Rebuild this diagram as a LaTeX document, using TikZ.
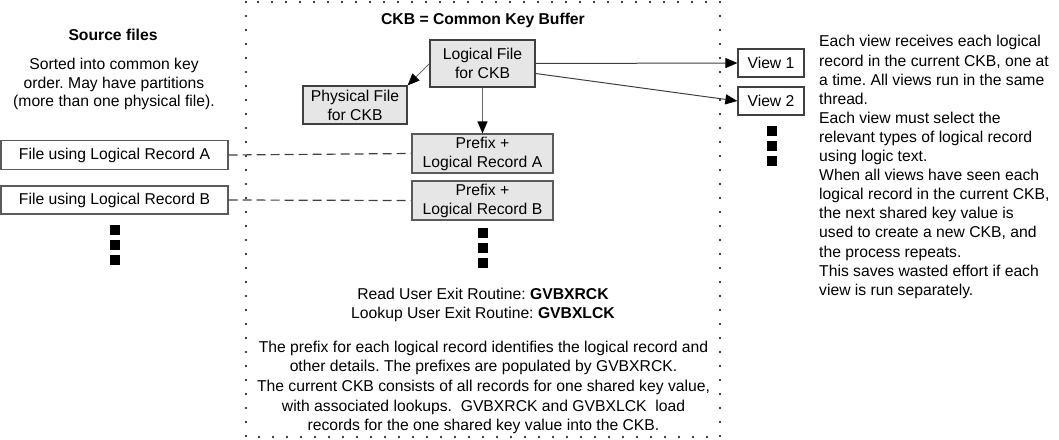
\documentclass[tikz,border=0pt]{standalone}
\usepackage{fontspec}
\setmainfont{Liberation Sans}
\usetikzlibrary{arrows.meta}
\definecolor{boxfill}{HTML}{E6E6E6}
\definecolor{boxline}{HTML}{5A5A5A}
\definecolor{darkline}{HTML}{404040}
\definecolor{arrline}{HTML}{6A6A6A}
\frenchspacing
\begin{document}
\begin{tikzpicture}[x=1pt,y=-1pt,
  txt/.style={font=\fontsize{15.7}{19}\selectfont, inner sep=0pt, align=center},
  boxg/.style={txt, draw=boxline, fill=boxfill, line width=1.2pt},
  boxw/.style={txt, draw=boxline, fill=white, line width=1.2pt},
  sq/.style={fill=black, minimum size=10pt, inner sep=0pt},
  tip/.style={-{Triangle[length=12pt,width=10pt,color=black]}},
  dashline/.style={draw=darkline, line width=1.2pt, dash pattern=on 9pt off 5pt},
  dotframe/.style={line width=2.2pt, line cap=round, dash pattern=on 0pt off 14pt}
]
\useasboundingbox (0,0) rectangle (1059,439);
\draw[dotframe] (246,2) rectangle (720,437);

% titles
\node[txt, font=\fontsize{15.7}{19}\selectfont\bfseries] (srct) at (113,35) {Source files};
\node[txt, font=\fontsize{15.7}{18.7}\selectfont] (srcd) at (114,84) {Sorted into common key\\order. May have partitions\\(more than one physical file).};
\node[txt, font=\fontsize{15.7}{19}\selectfont\bfseries] (ckbt) at (483,20) {CKB = Common Key Buffer};

% source file boxes
\node[boxw, minimum width=227pt, minimum height=29pt] (fa) at (114.5,155) {File using Logical Record A};
\node[boxw, minimum width=227pt, minimum height=28pt] (fb) at (114.5,200) {File using Logical Record B};
\node[sq] (ls1) at (114.5,229.5) {};
\node[sq] (ls2) at (114.5,244.5) {};
\node[sq] (ls3) at (114.5,259.5) {};

% CKB boxes
\node[boxg, draw=darkline, minimum width=105pt, minimum height=47pt] (lf) at (482.5,63.5) {Logical File\\for CKB};
\node[boxg, draw=darkline, minimum width=104pt, minimum height=38pt] (pf) at (355,105) {Physical File\\for CKB};
\node[boxg, minimum width=141pt, minimum height=39pt] (pa) at (482.5,153.5) {Prefix +\\Logical Record A};
\node[boxg, minimum width=141pt, minimum height=39pt] (pb) at (482.5,200.5) {Prefix +\\Logical Record B};
\node[sq] (ms1) at (483,232.5) {};
\node[sq] (ms2) at (483,247.5) {};
\node[sq] (ms3) at (483,262.5) {};

\node[txt] (exits) at (483,304.5) {Read User Exit Routine: \textbf{GVBXRCK}\\Lookup User Exit Routine: \textbf{GVBXLCK}};
\node[txt, font=\fontsize{15.7}{19.7}\selectfont] (notes) at (483.5,387.5) {The prefix for each logical record identifies the logical record and\\other details. The prefixes are populated by GVBXRCK.\\The current CKB consists of all records for one shared key value,\\with associated lookups.~ GVBXRCK and GVBXLCK~ load\\records for the one shared key value into the CKB.};

% views
\node[boxw, draw=darkline, minimum width=66pt, minimum height=28pt] (v1) at (771,63) {View 1};
\node[boxw, draw=darkline, minimum width=66pt, minimum height=28pt] (v2) at (771,101) {View 2};
\node[sq] (rs1) at (771.5,131) {};
\node[sq] (rs2) at (771.5,146) {};
\node[sq] (rs3) at (771.5,160.5) {};

\node[txt, font=\fontsize{15.7}{19.1}\selectfont, align=left, anchor=west] (vtext) at (819,167) {Each view receives each logical\\record in the current CKB, one at\\a time. All views run in the same\\thread.\\Each view must select the\\relevant types of logical record\\using logic text.\\When all views have seen each\\logical record in the current CKB,\\the next shared key value is\\used to create a new CKB, and\\the process repeats.\\This saves wasted effort if each\\view is run separately.};

% connectors
\draw[tip, draw=arrline, line width=1.2pt] (lf.south) -- (pa.north);
\draw[tip, draw=arrline, line width=0.9pt] (lf.west) -- (pf.north east);
\draw[tip, draw=darkline, line width=1pt] (lf.east) -- (v1.west);
\draw[tip, draw=darkline, line width=1pt] ([yshift=-10pt]lf.east) -- (v2.west);
\draw[dashline] (fa.east) -- (pa.west);
\draw[dashline] (fb.east) -- (pb.west);
\end{tikzpicture}
\end{document}
